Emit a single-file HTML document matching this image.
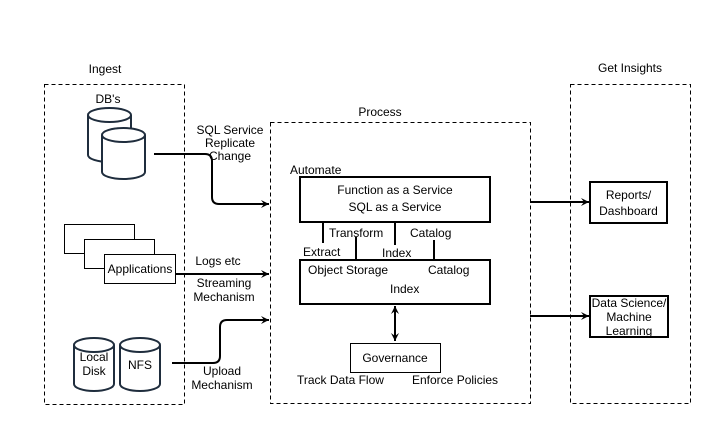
<!DOCTYPE html>
<html><head><meta charset="utf-8"><style>body{margin:0;background:#fff}svg{display:block}text{font-family:"Liberation Sans",sans-serif;font-size:12px;fill:#000}</style></head><body>
<svg width="723" height="424" viewBox="0 0 723 424">
<defs><marker id="a" markerWidth="10" markerHeight="10" refX="9" refY="5" orient="auto" markerUnits="userSpaceOnUse"><path d="M1,1 L9,5 L1,9 L4,5 Z" fill="#000"/></marker>
<marker id="b" markerWidth="10" markerHeight="10" refX="9" refY="5" orient="auto-start-reverse" markerUnits="userSpaceOnUse"><path d="M1,1 L9,5 L1,9 L4,5 Z" fill="#000"/></marker></defs>
<g fill="none" stroke="#000" stroke-dasharray="4,3" stroke-width="1">
<rect x="44.5" y="84.5" width="140" height="320"/>
<rect x="270.5" y="122.5" width="260" height="281"/>
<rect x="570.5" y="84.5" width="120" height="319"/>
</g>
<text x="105" y="73" text-anchor="middle">Ingest</text>
<text x="380" y="116" text-anchor="middle">Process</text>
<text x="630" y="72" text-anchor="middle">Get Insights</text>
<text x="108" y="103" text-anchor="middle">DB's</text>
<g fill="#fff" stroke="#1f2d3d" stroke-width="2">
<path d="M88,115 V155 A21.5,7 0 0 0 131,155 V115"/><ellipse cx="109.5" cy="115" rx="21.5" ry="7"/>
<path d="M102,135 V172 A21.5,7 0 0 0 145,172 V135"/><ellipse cx="123.5" cy="135" rx="21.5" ry="7"/>
<path d="M74,345 V384 A20,7 0 0 0 114,384 V345"/><ellipse cx="94" cy="345" rx="20" ry="7"/>
<path d="M120,345 V384 A20,7 0 0 0 160,384 V345"/><ellipse cx="140" cy="345" rx="20" ry="7"/>
</g>
<text x="94" y="361" text-anchor="middle">Local</text><text x="94" y="375" text-anchor="middle">Disk</text>
<text x="140" y="369" text-anchor="middle">NFS</text>
<g fill="#fff" stroke="#000" stroke-width="1">
<rect x="64.5" y="224.5" width="70" height="29"/>
<rect x="84.5" y="239.5" width="70" height="29"/>
<rect x="104.5" y="254.5" width="71" height="29"/>
</g>
<text x="140" y="273" text-anchor="middle">Applications</text>
<g fill="none" stroke="#000" stroke-width="2">
<path d="M154,154 H205 Q212,154 212,161 V197 Q212,204 219,204 H269" marker-end="url(#a)"/>
<path d="M175,274 H269" marker-end="url(#a)"/>
<path d="M172,363 H213 Q220,363 220,356 V327 Q220,320 227,320 H269" marker-end="url(#a)"/>
<path d="M530,202 H589" marker-end="url(#a)"/>
<path d="M530,316 H589" marker-end="url(#a)"/>
<path d="M395,306 V341" marker-start="url(#b)" marker-end="url(#b)"/>
<path d="M323,222 V243 M356,237 V260 M395,222 V245 M434,240 V260"/>
</g>
<text x="230" y="134" text-anchor="middle">SQL Service</text>
<text x="230" y="147" text-anchor="middle">Replicate</text>
<text x="230" y="160" text-anchor="middle">Change</text>
<text x="218" y="265" text-anchor="middle">Logs etc</text>
<text x="224" y="287" text-anchor="middle">Streaming</text>
<text x="224" y="301" text-anchor="middle">Mechanism</text>
<text x="222" y="375" text-anchor="middle">Upload</text>
<text x="222" y="389" text-anchor="middle">Mechanism</text>
<g fill="#fff" stroke="#000" stroke-width="2">
<rect x="300" y="177" width="190" height="45"/>
<rect x="300" y="260" width="190" height="44"/>
<rect x="590" y="182" width="77" height="41"/>
<rect x="590" y="296" width="78" height="41"/>
</g>
<rect x="350.5" y="343.5" width="90" height="29" fill="#fff" stroke="#000"/>
<text x="290" y="174">Automate</text>
<text x="395" y="194" text-anchor="middle">Function as a Service</text>
<text x="395" y="211" text-anchor="middle">SQL as a Service</text>
<text x="329" y="237">Transform</text>
<text x="410" y="237">Catalog</text>
<text x="303" y="256">Extract</text>
<text x="382" y="257">Index</text>
<text x="308" y="274">Object Storage</text>
<text x="428" y="274">Catalog</text>
<text x="390" y="293">Index</text>
<text x="395" y="362" text-anchor="middle">Governance</text>
<text x="297" y="384">Track Data Flow</text>
<text x="412" y="384">Enforce Policies</text>
<text x="628.5" y="199" text-anchor="middle">Reports/</text>
<text x="628.5" y="215" text-anchor="middle">Dashboard</text>
<text x="629" y="307" text-anchor="middle">Data Science/</text>
<text x="629" y="321" text-anchor="middle">Machine</text>
<text x="629" y="335" text-anchor="middle">Learning</text>
</svg>
</body></html>
